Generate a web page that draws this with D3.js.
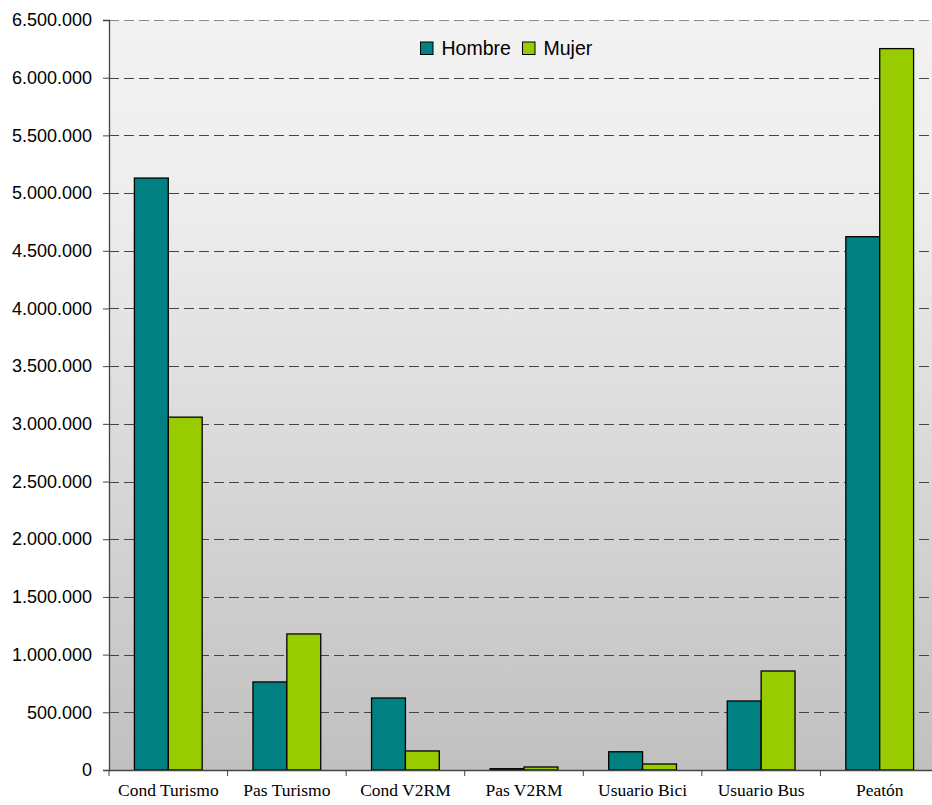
<!DOCTYPE html>
<html>
<head>
<meta charset="utf-8">
<script src="https://cdn.jsdelivr.net/npm/d3@7"></script>
<style>
  html, body { margin: 0; padding: 0; background: #fff; }
  svg { display: block; }
</style>
</head>
<body>
<svg id="chart" width="932" height="805"></svg>
<script>
// Categories and values (persons) by sex
const categories = ["Cond Turismo", "Pas Turismo", "Cond V2RM", "Pas V2RM", "Usuario Bici", "Usuario Bus", "Peatón"];
const seriesNames = ["Hombre", "Mujer"];
const hombre = [5130000, 763000, 624000, 11000, 158000, 598000, 4622000];
const mujer  = [3058000, 1179000, 165000, 26000, 52000, 858000, 6252000];
const yTicks = [0, 500000, 1000000, 1500000, 2000000, 2500000, 3000000, 3500000, 4000000, 4500000, 5000000, 5500000, 6000000, 6500000];
const colors = ["#008080", "#99cc00"];

const svg = d3.select("#chart");
const plotL = 109, plotR = 939, plotT = 20, plotB = 770;

const x = d3.scaleBand().domain(categories).range([plotL, plotR]).paddingInner(0).paddingOuter(0);
const bandW = x.bandwidth();
const barW = bandW / 3.5;          // gap width 150%
const offset = barW * 0.75;
const y = d3.scaleLinear().domain([0, 6500000]).range([plotB, plotT]);

// plot background gradient
const defs = svg.append("defs");
const grad = defs.append("linearGradient").attr("id", "bg").attr("x1", 0).attr("y1", 0).attr("x2", 0).attr("y2", 1);
grad.append("stop").attr("offset", "0%").attr("stop-color", "#f2f2f2");
grad.append("stop").attr("offset", "25%").attr("stop-color", "#ededed");
grad.append("stop").attr("offset", "100%").attr("stop-color", "#c0c0c0");
svg.append("rect").attr("x", plotL).attr("y", plotT).attr("width", plotR - plotL).attr("height", plotB - plotT).attr("fill", "url(#bg)");

// horizontal grid lines
svg.append("g").selectAll("line").data(yTicks.filter(d => d > 0)).join("line")
  .attr("x1", plotL).attr("x2", plotR)
  .attr("y1", d => Math.round(y(d)) + 0.5).attr("y2", d => Math.round(y(d)) + 0.5)
  .attr("stroke", d => d === 6500000 ? "#8a8a8a" : "#444")
  .attr("stroke-width", 1)
  .attr("stroke-dasharray", "10,5");

// bars
const groups = svg.append("g").selectAll("g").data(categories).join("g");
groups.selectAll("rect").data((c, i) => [hombre[i], mujer[i]]).join("rect")
  .attr("x", (d, j, nodes) => {
    const c = d3.select(nodes[j].parentNode).datum();
    return x(c) + offset + j * barW;
  })
  .attr("y", d => y(d))
  .attr("width", barW)
  .attr("height", d => plotB - y(d))
  .attr("fill", (d, j) => colors[j])
  .attr("stroke", "#000")
  .attr("stroke-width", 1.3);

// y axis
const yAxis = d3.axisLeft(y).tickValues(yTicks).tickSize(6).tickPadding(11)
  .tickFormat(d => d3.format(",")(d).replace(/,/g, "."));
const gy = svg.append("g").attr("transform", `translate(${plotL},0)`).call(yAxis);
gy.select(".domain").attr("stroke", "#444").attr("stroke-width", 1.3);
gy.selectAll(".tick line").attr("stroke", "#444");
gy.selectAll("text").attr("font-family", "'Liberation Sans', Arial, sans-serif").attr("font-size", 18).attr("fill", "#000");

// x axis
const xAxis = d3.axisBottom(x).tickSize(0).tickPadding(14);
const gx = svg.append("g").attr("transform", `translate(0,${plotB})`).call(xAxis);
gx.select(".domain").attr("stroke", "#444").attr("stroke-width", 1.3);
gx.selectAll("text").attr("font-family", "'Liberation Serif', 'Times New Roman', serif").attr("font-size", 17.5).attr("fill", "#000");
// category separators
svg.append("g").selectAll("line").data(categories.concat(["__end"])).join("line")
  .attr("x1", (d, i) => plotL + i * bandW).attr("x2", (d, i) => plotL + i * bandW)
  .attr("y1", plotB).attr("y2", plotB + 6)
  .attr("stroke", "#444");

// legend
const legend = svg.append("g").attr("font-family", "'Liberation Sans', Arial, sans-serif").attr("font-size", 19.5);
const legendItems = [{ name: seriesNames[0], x: 420.5 }, { name: seriesNames[1], x: 522.5 }];
legendItems.forEach((it, i) => {
  legend.append("rect").attr("x", it.x).attr("y", 42).attr("width", 12.5).attr("height", 12.5)
    .attr("fill", colors[i]).attr("stroke", "#000").attr("stroke-width", 1);
  legend.append("text").attr("x", it.x + 21).attr("y", 55).text(it.name).attr("fill", "#000");
});
</script>
</body>
</html>
